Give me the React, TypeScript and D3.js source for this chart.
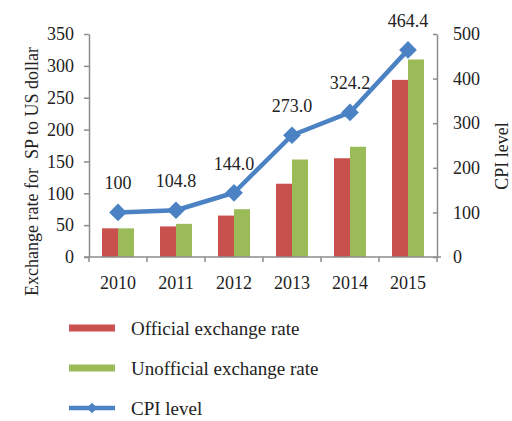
import { useEffect, useRef } from "react";
import * as d3 from "d3";

const years = ["2010", "2011", "2012", "2013", "2014", "2015"];
const official = [45, 48, 65, 115, 155, 278];
const unofficial = [45, 52, 75, 153, 173, 310];
const cpi = [100, 104.8, 144.0, 273.0, 324.2, 464.4];
const cpiLabels = ["100", "104.8", "144.0", "273.0", "324.2", "464.4"];
const leftTicks = [0, 50, 100, 150, 200, 250, 300, 350];
const rightTicks = [0, 100, 200, 300, 400, 500];

const RED = "#c9514d";
const GREEN = "#9bbb59";
const BLUE = "#4a82c4";
const AXIS = "#8c8c8c";
const INK = "#222";
const FONT = "'Liberation Serif', 'Times New Roman', serif";

export default function App() {
  const svgRef = useRef<SVGSVGElement>(null);

  useEffect(() => {
    if (!svgRef.current) return;
    const svg = d3.select(svgRef.current);
    svg.selectAll("*").remove();

    const left = 89;
    const right = 437;
    const top = 34;
    const bottom = 257;

    const x = d3.scaleBand().domain(years).range([left, right]);
    const yL = d3.scaleLinear().domain([0, 350]).range([bottom, top]);
    const yR = d3.scaleLinear().domain([0, 500]).range([bottom, top]);
    const barW = 16;
    const cx = (d: string) => (x(d) ?? 0) + x.bandwidth() / 2;

    // Bars
    const groups = svg
      .append("g")
      .selectAll("g")
      .data(years)
      .join("g")
      .attr("transform", (d) => `translate(${cx(d)},0)`);

    groups
      .append("rect")
      .attr("x", -barW)
      .attr("width", barW)
      .attr("y", (_, i) => yL(official[i]))
      .attr("height", (_, i) => bottom - yL(official[i]))
      .attr("fill", RED);

    groups
      .append("rect")
      .attr("x", 0)
      .attr("width", barW)
      .attr("y", (_, i) => yL(unofficial[i]))
      .attr("height", (_, i) => bottom - yL(unofficial[i]))
      .attr("fill", GREEN);

    const styleAxis = (g: d3.Selection<SVGGElement, unknown, null, undefined>) => {
      g.select(".domain").attr("stroke", AXIS).attr("stroke-width", 1.5);
      g.selectAll(".tick line").attr("stroke", AXIS).attr("stroke-width", 1.5);
      g.selectAll(".tick text")
        .attr("fill", INK)
        .attr("font-family", FONT)
        .attr("font-size", 18);
    };

    // Left axis
    svg
      .append("g")
      .attr("transform", `translate(${left},0)`)
      .call(d3.axisLeft(yL).tickValues(leftTicks).tickSize(5).tickSizeOuter(0).tickPadding(10))
      .call(styleAxis);

    // Right axis (ticks point inward)
    const ra = svg
      .append("g")
      .attr("transform", `translate(${right},0)`)
      .call(d3.axisRight(yR).tickValues(rightTicks).tickSize(0).tickSizeOuter(0).tickPadding(16))
      .call(styleAxis);
    ra.selectAll(".tick line").attr("x2", -4);

    // Bottom axis with ticks at band boundaries
    const xb = svg.append("g").attr("transform", `translate(0,${bottom})`);
    xb.append("line")
      .attr("x1", left - 5)
      .attr("x2", right + 4)
      .attr("stroke", AXIS)
      .attr("stroke-width", 1.5);
    const bounds = years.map((d) => x(d) ?? 0).concat([right]);
    xb.selectAll("line.tk")
      .data(bounds)
      .join("line")
      .attr("class", "tk")
      .attr("x1", (d) => d)
      .attr("x2", (d) => d)
      .attr("y1", 0)
      .attr("y2", 5)
      .attr("stroke", AXIS)
      .attr("stroke-width", 1.5);
    xb.selectAll("text")
      .data(years)
      .join("text")
      .attr("x", (d) => cx(d))
      .attr("y", 32)
      .attr("text-anchor", "middle")
      .attr("font-family", FONT)
      .attr("font-size", 18)
      .attr("fill", INK)
      .text((d) => d);

    // CPI line
    const line = d3
      .line<number>()
      .x((_, i) => cx(years[i]))
      .y((d) => yR(d));
    svg
      .append("path")
      .datum(cpi)
      .attr("d", line)
      .attr("fill", "none")
      .attr("stroke", BLUE)
      .attr("stroke-width", 4.5)
      .attr("stroke-linejoin", "round");

    const diamond = d3.symbol().type(d3.symbolDiamond2).size(200);
    svg
      .append("g")
      .selectAll("path")
      .data(cpi)
      .join("path")
      .attr("d", diamond)
      .attr("transform", (d, i) => `translate(${cx(years[i])},${yR(d)})`)
      .attr("fill", BLUE);

    svg
      .append("g")
      .selectAll("text")
      .data(cpi)
      .join("text")
      .attr("x", (_, i) => cx(years[i]))
      .attr("y", (d) => yR(d) - 23)
      .attr("text-anchor", "middle")
      .attr("font-family", FONT)
      .attr("font-size", 18)
      .attr("fill", INK)
      .text((_, i) => cpiLabels[i]);

    // Axis titles
    svg
      .append("text")
      .attr("transform", `translate(38,${(top + bottom) / 2 + 26}) rotate(-90)`)
      .attr("text-anchor", "middle")
      .attr("font-family", FONT)
      .attr("font-size", 18)
      .attr("fill", INK)
      .attr("xml:space", "preserve")
      .text("Exchange rate for  SP to US dollar");

    svg
      .append("text")
      .attr("transform", `translate(508,156) rotate(-90)`)
      .attr("text-anchor", "middle")
      .attr("font-family", FONT)
      .attr("font-size", 18)
      .attr("fill", INK)
      .text("CPI level");

    // Legend
    const legend = [
      { label: "Official exchange rate", color: RED, kind: "bar" },
      { label: "Unofficial exchange rate", color: GREEN, kind: "bar" },
      { label: "CPI level", color: BLUE, kind: "line" },
    ];
    const ly = d3.scalePoint().domain(legend.map((d) => d.label)).range([328, 408]);
    const lg = svg
      .append("g")
      .selectAll("g")
      .data(legend)
      .join("g")
      .attr("transform", (d) => `translate(69,${ly(d.label)})`);
    lg.filter((d) => d.kind === "bar")
      .append("rect")
      .attr("x", 0)
      .attr("y", -3.5)
      .attr("width", 46)
      .attr("height", 7)
      .attr("fill", (d) => d.color);
    const ll = lg.filter((d) => d.kind === "line");
    ll.append("line")
      .attr("x1", 0)
      .attr("x2", 46)
      .attr("stroke", BLUE)
      .attr("stroke-width", 4.5);
    ll.append("path")
      .attr("d", d3.symbol().type(d3.symbolDiamond2).size(70))
      .attr("transform", "translate(23,0)")
      .attr("fill", BLUE);
    lg.append("text")
      .attr("x", 62)
      .attr("dy", "0.35em")
      .attr("font-family", FONT)
      .attr("font-size", 19)
      .attr("fill", INK)
      .text((d) => d.label);
  }, []);

  return (
    <svg
      ref={svgRef}
      width={512}
      height={421}
      style={{ position: "absolute", left: 0, top: 0, background: "#fff" }}
    />
  );
}
